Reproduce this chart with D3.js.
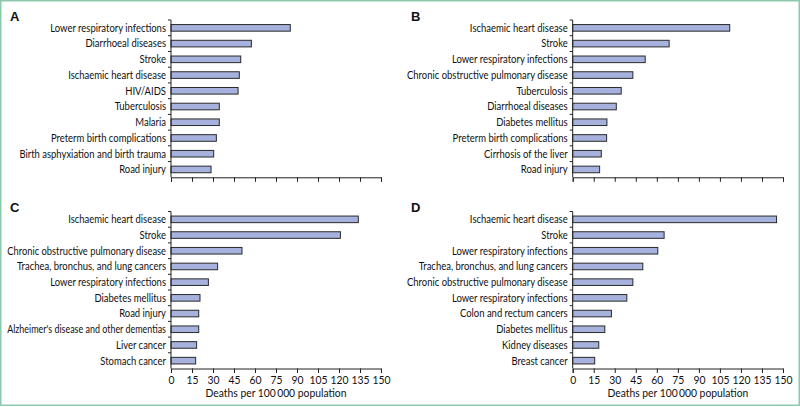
<!DOCTYPE html>
<html>
<head>
<meta charset="utf-8">
<script src="https://cdn.jsdelivr.net/npm/d3@7"></script>
<style>
  body { margin: 0; background: #fff; }
  svg { display: block; }
  text { font-family: Lato, "Open Sans", sans-serif; fill: #111; }
</style>
</head>
<body>
<svg id="chart" width="800" height="407"></svg>
<script>
// ---- Data ----
const catsA = ["Lower respiratory infections","Diarrhoeal diseases","Stroke","Ischaemic heart disease","HIV/AIDS","Tuberculosis","Malaria","Preterm birth complications","Birth asphyxiation and birth trauma","Road injury"];
const valsA = [85.2, 57.4, 49.8, 48.8, 47.9, 34.5, 34.5, 32.4, 30.5, 28.6];

const catsB = ["Ischaemic heart disease","Stroke","Lower respiratory infections","Chronic obstructive pulmonary disease","Tuberculosis","Diarrhoeal diseases","Diabetes mellitus","Preterm birth complications","Cirrhosis of the liver","Road injury"];
const valsB = [112, 68.8, 51.7, 42.9, 34.6, 31.1, 24.4, 24.2, 20.4, 19.2];

const catsC = ["Ischaemic heart disease","Stroke","Chronic obstructive pulmonary disease","Trachea, bronchus, and lung cancers","Lower respiratory infections","Diabetes mellitus","Road injury","Alzheimer's disease and other dementias","Liver cancer","Stomach cancer"];
const valsC = [133.8, 121, 50.7, 33.3, 26.7, 20.7, 19.8, 19.8, 18.3, 17.6];

const catsD = ["Ischaemic heart disease","Stroke","Lower respiratory infections","Trachea, bronchus, and lung cancers","Chronic obstructive pulmonary disease","Lower respiratory infections","Colon and rectum cancers","Diabetes mellitus","Kidney diseases","Breast cancer"];
const valsD = [145.4, 65.2, 60.7, 50, 42.9, 38.6, 27.6, 22.9, 18.6, 15.7];

const xTicks = [0, 15, 30, 45, 60, 75, 90, 105, 120, 135, 150];
const panelLetters = ["A", "B", "C", "D"];
const xTitle = "Deaths per 100\u2009000 population";

// ---- Layout ----
const svg = d3.select("#chart");
svg.append("rect").attr("x", 0.75).attr("y", 0.75).attr("width", 798.5).attr("height", 404.5)
  .attr("fill", "none").attr("stroke", "#8cc9ad").attr("stroke-width", 1.5);

// horizontal condensing factor so Lato approximates the narrow original face
const probe = svg.append("text").style("font-size", "11px").text("Lower respiratory infections");
const sx = Math.min(1, 116 / probe.node().getComputedTextLength());
probe.remove();

function placeText(sel, x, y, maxW) {
  let s = sx;
  if (maxW) {
    const w = sel.node().getComputedTextLength() * sx;
    if (w > maxW) s = sx * maxW / w;
  }
  sel.attr("x", 0).attr("y", 0).attr("transform", `translate(${x},${y}) scale(${s},1)`);
}

const panels = [
  {cats: catsA, vals: valsA, letter: panelLetters[0], x0: 171, x1: 381, top: 20, bottom: 177.3, lx: 10, ly: 20.5, showTicks: false},
  {cats: catsB, vals: valsB, letter: panelLetters[1], x0: 572.7, x1: 783, top: 20, bottom: 177.3, lx: 411, ly: 20.5, showTicks: false},
  {cats: catsC, vals: valsC, letter: panelLetters[2], x0: 171, x1: 381, top: 211.5, bottom: 368.5, lx: 10, ly: 211.5, showTicks: true},
  {cats: catsD, vals: valsD, letter: panelLetters[3], x0: 572.7, x1: 783, top: 211.5, bottom: 368.5, lx: 411, ly: 211.5, showTicks: true}
];

panels.forEach(p => {
  const g = svg.append("g");
  const x = d3.scaleLinear().domain([0, 150]).range([p.x0, p.x1]);
  const y = d3.scaleBand().domain(d3.range(p.cats.length)).range([p.top, p.bottom]).paddingInner(0.58).paddingOuter(0.29);

  // panel letter
  g.append("text").attr("x", p.lx).attr("y", p.ly).text(p.letter)
    .style("font-family", "'Liberation Sans', Arial, sans-serif")
    .style("font-weight", "bold").style("font-size", "13px");

  // bars
  g.selectAll("rect.bar").data(p.vals).join("rect").attr("class", "bar")
    .attr("x", x(0)).attr("y", (d, i) => y(i))
    .attr("width", d => x(d) - x(0)).attr("height", y.bandwidth())
    .attr("fill", "#a6b2dd").attr("stroke", "#2a2a2a").attr("stroke-width", 1);

  // y axis line and boundary ticks
  g.append("line").attr("x1", p.x0).attr("x2", p.x0).attr("y1", p.top).attr("y2", p.bottom)
    .attr("stroke", "#222").attr("stroke-width", 1);
  const step = y.step();
  const bounds = d3.range(p.cats.length).map(i => y(i) - step * 0.29);
  g.selectAll("line.yt").data(bounds).join("line").attr("class", "yt")
    .attr("x1", p.x0 - 3).attr("x2", p.x0).attr("y1", d => d).attr("y2", d => d)
    .attr("stroke", "#222").attr("stroke-width", 1);

  // category labels
  g.selectAll("text.cat").data(p.cats).join("text").attr("class", "cat")
    .attr("dy", "0.35em").attr("text-anchor", "end")
    .style("font-size", "11px").text(d => d)
    .each(function(d, i) { placeText(d3.select(this), p.x0 - 5, y(i) + y.bandwidth() / 2, p.x0 - 5 - (p.x0 > 400 ? 407 : 7)); });

  // x axis
  const ax = d3.axisBottom(x).tickValues(xTicks).tickSize(4.5).tickPadding(2)
    .tickFormat(p.showTicks ? d3.format("d") : () => "");
  const axG = g.append("g").attr("transform", `translate(0,${p.bottom})`).call(ax);
  axG.select(".domain").attr("stroke", "#222");
  axG.selectAll(".tick line").attr("stroke", "#222");
  axG.selectAll(".tick text").style("font-size", "12px")
    .style("font-family", "Lato, 'Open Sans', sans-serif").attr("fill", "#111")
    .each(function() { placeText(d3.select(this), 0, 6.5); });

  if (p.showTicks) {
    const t = g.append("text").attr("text-anchor", "middle").style("font-size", "12px").text(xTitle);
    placeText(t, (p.x0 + p.x1) / 2, p.bottom + 28);
  }
});
</script>
</body>
</html>
